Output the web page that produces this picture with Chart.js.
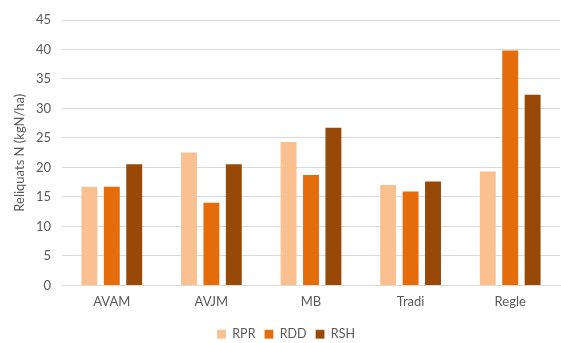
<!DOCTYPE html>
<html>
<head>
<meta charset="utf-8">
<script src="https://cdn.jsdelivr.net/npm/chart.js@4/dist/chart.umd.min.js"></script>
<style>
  html, body { margin: 0; padding: 0; background: #fff; }
  #wrap { width: 561px; height: 343px; }
</style>
</head>
<body>
<div id="wrap"><canvas id="c" width="561" height="343"></canvas></div>
<script>
// Residual nitrogen per treatment, three sampling dates
const categories = ['AVAM', 'AVJM', 'MB', 'Tradi', 'Regle'];
const seriesNames = ['RPR', 'RDD', 'RSH'];
const rpr = [16.9, 22.7, 24.5, 17.2, 19.5];
const rdd = [16.9, 14.2, 18.9, 16.1, 40.0];
const rsh = [20.7, 20.7, 26.9, 17.8, 32.5];
const yTicks = [0, 5, 10, 15, 20, 25, 30, 35, 40, 45];
const yTitle = 'Reliquats N (kgN/ha)';

const colors = ['#FAC090', '#E46C0A', '#984807'];
const values = [rpr, rdd, rsh];

const textColor = '#595959';
const fontFamily = 'Lato, "Open Sans", "DejaVu Sans", sans-serif';

// Keep the legend band compact so the plot reaches further down
const compactLegend = {
  id: 'compactLegend',
  beforeInit(chart) {
    const legend = chart.legend;
    if (!legend) return;
    const fit = legend.fit;
    legend.fit = function () {
      fit.call(this);
      this.height = 24;
    };
  }
};

new Chart(document.getElementById('c'), {
  type: 'bar',
  data: {
    labels: categories,
    datasets: seriesNames.map((name, i) => ({
      label: name,
      data: values[i],
      backgroundColor: colors[i],
      borderColor: 'rgba(255,255,255,0.25)',
      borderWidth: 1,
      categoryPercentage: 0.675,
      barPercentage: 0.8
    }))
  },
  plugins: [compactLegend],
  options: {
    responsive: false,
    animation: false,
    layout: { padding: { left: 12, right: 1, top: 20, bottom: 0 } },
    plugins: {
      tooltip: { enabled: false },
      legend: {
        position: 'bottom',
        labels: {
          boxWidth: 9,
          boxHeight: 9,
          padding: 9,
          color: textColor,
          font: { family: fontFamily, size: 12.5 }
        }
      }
    },
    scales: {
      x: {
        grid: { display: false, drawTicks: false },
        border: { display: true, color: '#D9D9D9', width: 1 },
        ticks: { color: textColor, font: { family: fontFamily, size: 13 }, padding: 9 }
      },
      y: {
        min: 0,
        max: 45,
        afterBuildTicks: (axis) => { axis.ticks = yTicks.map(v => ({ value: v })); },
        afterFit: (axis) => { axis.width = 50; },
        grid: { color: '#D9D9D9', lineWidth: 1, drawTicks: false },
        border: { display: false },
        ticks: { color: textColor, font: { family: fontFamily, size: 13 }, padding: 11 },
        title: {
          display: true,
          text: yTitle,
          color: textColor,
          font: { family: fontFamily, size: 13 },
          padding: { top: 0, bottom: 2 }
        }
      }
    }
  }
});
</script>
</body>
</html>
